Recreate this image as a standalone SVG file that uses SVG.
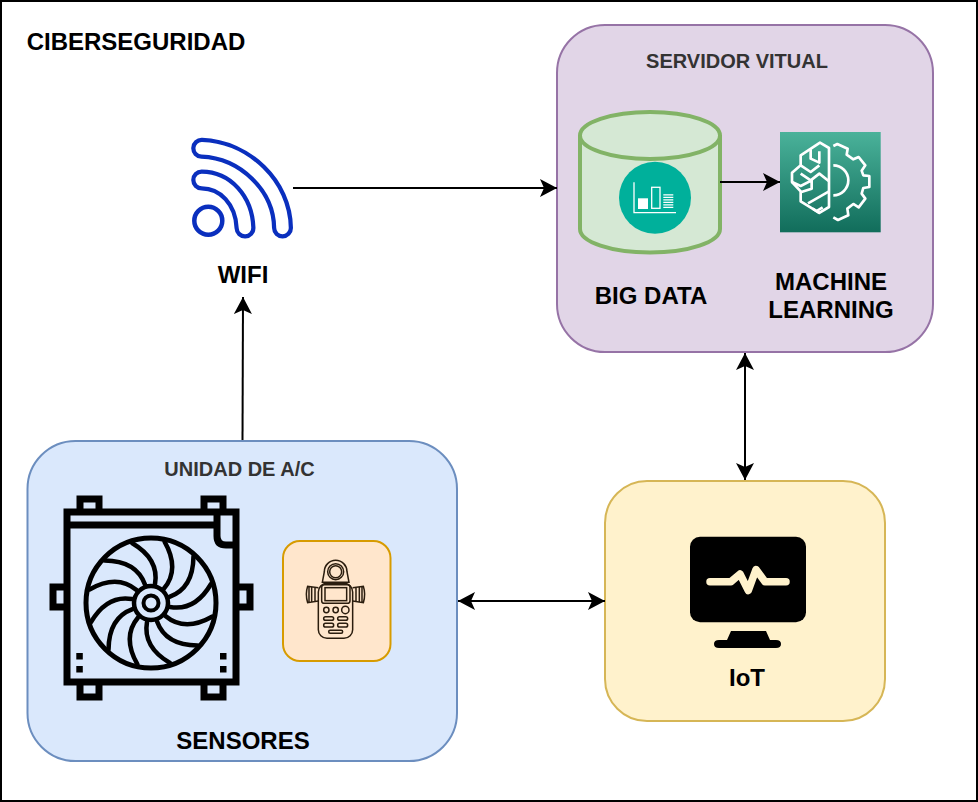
<svg xmlns="http://www.w3.org/2000/svg" xmlns:xlink="http://www.w3.org/1999/xlink" width="978" height="802" viewBox="0 0 978 802">
<style>
text{font-family:"Liberation Sans",Arial,sans-serif;font-weight:bold;text-anchor:middle;fill:#000;font-size:24px}
.sub{fill:#333333;font-size:20px}
.conn{fill:none;stroke:#000;stroke-width:2}
.fan{fill:none;stroke:#000;stroke-width:4.500;stroke-linecap:round}
.fr{fill:none;stroke:#000;stroke-width:7}
.wo{fill:none;stroke:#0a2fbe;stroke-width:21;stroke-linecap:round}
.wi{fill:none;stroke:#fff;stroke-width:12.500;stroke-linecap:round}
.ml{fill:none;stroke:#fff;stroke-width:8;stroke-linejoin:round}
</style>
<defs>
<marker id="end" markerUnits="userSpaceOnUse" markerWidth="20" markerHeight="20" refX="17" refY="9" orient="auto"><path d="M0,0 L17,9 L0,18 L4,9 Z" fill="#000"/></marker>
<marker id="start" markerUnits="userSpaceOnUse" markerWidth="20" markerHeight="20" refX="0" refY="9" orient="auto"><path d="M17,0 L0,9 L17,18 L13,9 Z" fill="#000"/></marker>
<linearGradient id="mlg" x1="0" y1="0" x2="0" y2="1"><stop offset="0" stop-color="#4ab29a"/><stop offset="1" stop-color="#116d5b"/></linearGradient>
<path id="blade" d="M4,-19 C7,-36 -2,-50 -19,-60" class="fan"/>
</defs>
<rect x="1" y="1" width="976" height="800" fill="#fff" stroke="#000" stroke-width="2"/>
<text id="title" x="136" y="50">CIBERSEGURIDAD</text>

<g id="servidor">
<rect x="557" y="25" width="376" height="327" rx="48" ry="48" fill="#e1d5e7" stroke="#9673a6" stroke-width="2"/>
<text x="737" y="68" class="sub">SERVIDOR VITUAL</text>
</g>
<g id="bigdata">
<path d="M580,135.500 V229 A70,23.500 0 0 0 720,229 V135.500 A70,23.500 0 0 0 580,135.500 Z" fill="#d5e8d4" stroke="#82b366" stroke-width="4"/>
<path d="M580,135.500 A70,23.500 0 0 0 720,135.500" fill="none" stroke="#82b366" stroke-width="4"/>
<circle cx="655" cy="197.700" r="36" fill="#00b09b"/>
<path d="M634,182.300 V212.700 H676" fill="none" stroke="#fff" stroke-width="1.300"/>
<rect x="638" y="198.300" width="10" height="10.700" fill="#fff"/>
<rect x="651.700" y="187.300" width="8.300" height="21" fill="none" stroke="#fff" stroke-width="1.300"/>
<path d="M663.300,194.800 H673.300 M663.300,197.300 H673.300 M663.300,199.800 H673.300 M663.300,202.300 H673.300 M663.300,204.800 H673.300 M663.300,207.300 H673.300" stroke="#fff" stroke-width="1.300"/>
<text x="651" y="304">BIG DATA</text>
</g>
<g id="ml">
<rect x="780" y="132" width="100.700" height="100.300" fill="url(#mlg)"/>
<g transform="translate(780,132) scale(.3333)">
<path class="ml" d="M147,48 L120,32 L62,70 V100 L36,122 V150 L62,178 V208 L118,243 L147,225 Z"/>
<path class="ml" d="M92,52 V80 L118,92 V58 M62,100 L92,120 L118,100 M147,148 L118,125 L92,145 L62,125 M36,150 L62,162 L95,145 V170 L64,180 M147,178 L84,214 M118,243 L98,230 M112,236 L128,226"/>
<path class="ml" d="M160,42 L172,36 L203,50 L200,68 L220,82 L236,75 L256,100 L245,116 L250,130 L268,132 L268,165 L250,168 L245,185 L256,200 L236,226 L220,216 L202,230 L205,250 L174,264 L160,256 M160,100 A45,45 0 0 1 160,190"/>
</g>
<text x="831" y="290">MACHINE</text>
<text x="831" y="318">LEARNING</text>
</g>
<g id="wifi">
<circle cx="208.300" cy="220.700" r="14" fill="#fff" stroke="#0a2fbe" stroke-width="4.500"/>
<path class="wo" d="M201.700,148.300 C245,150 282,186 282.500,228"/>
<path class="wo" d="M201.700,180 C225,180 244,200 245,228"/>
<path class="wi" d="M201.700,148.300 C245,150 282,186 282.500,228"/>
<path class="wi" d="M201.700,180 C225,180 244,200 245,228"/>
<text x="243" y="283">WIFI</text>
</g>
<g id="unidad">
<rect x="27.500" y="441" width="429.500" height="320" rx="48" ry="48" fill="#dae8fc" stroke="#6c8ebf" stroke-width="2"/>
<text x="239.500" y="476" class="sub">UNIDAD DE A/C</text>
<text x="243" y="749">SENSORES</text>
</g>
<g id="radiador">
<path class="fr" d="M67,512 H236 V682 H67 Z M67,525 H217 M80,509 V499 H99 V509 M204,509 V499 H223 V509 M80,685 V697 H99 V685 M204,685 V697 H223 V685 M64,587 H53 V607 H64 M239,587 H250 V607 H239"/>
<path class="fr" d="M217,515 V536 Q217,545 226,545 H236"/>
<g transform="translate(151,603)">
<circle r="65" fill="none" stroke="#000" stroke-width="5"/>
<circle r="17" fill="none" stroke="#000" stroke-width="4.500"/>
<circle r="7.500" fill="none" stroke="#000" stroke-width="4"/>
<use xlink:href="#blade" href="#blade"/>
<use xlink:href="#blade" href="#blade" transform="rotate(30)"/>
<use xlink:href="#blade" href="#blade" transform="rotate(60)"/>
<use xlink:href="#blade" href="#blade" transform="rotate(90)"/>
<use xlink:href="#blade" href="#blade" transform="rotate(120)"/>
<use xlink:href="#blade" href="#blade" transform="rotate(150)"/>
<use xlink:href="#blade" href="#blade" transform="rotate(180)"/>
<use xlink:href="#blade" href="#blade" transform="rotate(210)"/>
<use xlink:href="#blade" href="#blade" transform="rotate(240)"/>
<use xlink:href="#blade" href="#blade" transform="rotate(270)"/>
<use xlink:href="#blade" href="#blade" transform="rotate(300)"/>
<use xlink:href="#blade" href="#blade" transform="rotate(330)"/>
</g>
<path d="M76.300,653 h6.500 v6.500 h-6.500 Z M76.300,666 h6.500 v6.500 h-6.500 Z M220,653 h6.500 v6.500 h-6.500 Z M220,666 h6.500 v6.500 h-6.500 Z" fill="#000"/>
</g>
<g id="sensor">
<rect x="283" y="541" width="107.500" height="120" rx="17" ry="17" fill="#ffe6cc" stroke="#d79b00" stroke-width="2"/>
<g transform="translate(285,555) scale(.3333)">
<g style="fill:none;stroke:#2b1d0e;stroke-width:4.500">
<path d="M112,82 L118,50 A34,34 0 0 1 186,50 L192,82 Z"/>
<circle cx="152" cy="50" r="24"/><circle cx="152" cy="50" r="18"/>
<rect x="100" y="85" width="103" height="165" rx="26" ry="26"/>
<rect x="110" y="89" width="85" height="56" rx="8"/>
<rect x="120" y="98" width="65" height="39"/>
<path d="M100,98 L68,94 Q60,118 68,143 L100,138 M90,96 V140 M80,95 V141 M72,95 V142"/>
<path d="M203,98 L235,94 Q243,118 235,143 L203,138 M213,96 V140 M223,95 V141 M231,95 V142"/>
<circle cx="124" cy="165" r="8"/><circle cx="152" cy="165" r="8"/><circle cx="181" cy="165" r="11"/>
<rect x="116" y="185" width="30" height="11" rx="5.500"/><rect x="158" y="185" width="30" height="11" rx="5.500"/>
<rect x="116" y="205" width="30" height="11" rx="5.500"/><rect x="158" y="205" width="30" height="11" rx="5.500"/>
<rect x="131" y="226" width="42" height="9" rx="4.500"/>
</g>
</g>
</g>
<g id="iot">
<rect x="605" y="481" width="280" height="240" rx="42" ry="42" fill="#fff2cc" stroke="#d6b656" stroke-width="2"/>
<rect x="690" y="536.700" width="116" height="85.600" rx="10" ry="10" fill="#000"/>
<path d="M731,631 H766 L770,640 H776 Q781,640 781,644 Q781,648 776,648 H719 Q714,648 714,644 Q714,640 719,640 H727 Z" fill="#000"/>
<path d="M710,581.700 H731 L740,574 L748.300,590.500 L756,569.500 L765,581.700 H786" fill="none" stroke="#fff2cc" stroke-width="7.500" stroke-linecap="round" stroke-linejoin="round"/>
<text x="747" y="686">IoT</text>
</g>
<g id="connectors">
<path class="conn" d="M242.500,440 L243,297" marker-end="url(#end)"/>
<path class="conn" d="M293,188 L557,188" marker-end="url(#end)"/>
<path class="conn" d="M720,182 L780,182" marker-end="url(#end)"/>
<path class="conn" d="M745,353 L745,480" marker-start="url(#start)" marker-end="url(#end)"/>
<path class="conn" d="M458,601 L605,601" marker-start="url(#start)" marker-end="url(#end)"/>
</g>
</svg>
